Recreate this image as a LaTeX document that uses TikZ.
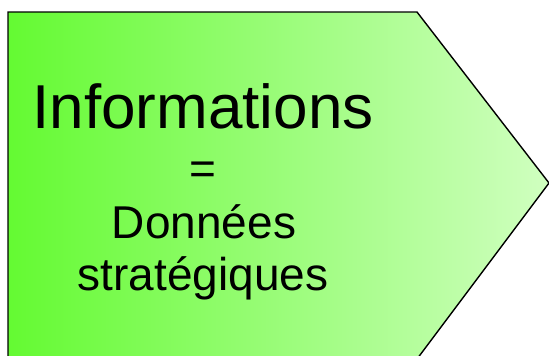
\documentclass[tikz,border=0pt]{standalone}
\usepackage{fontspec}
\setmainfont{Liberation Sans}
\definecolor{leftgreen}{RGB}{100,250,50}
\definecolor{rightgreen}{RGB}{208,255,192}
\begin{document}
\begin{tikzpicture}[x=1pt,y=-1pt,
    arrowbox/.style={draw=black,line width=1.4pt,left color=leftgreen,right color=rightgreen},
    bigtext/.style={font=\fontsize{62}{70}\selectfont,anchor=base,inner sep=0pt},
    midtext/.style={font=\fontsize{46}{52}\selectfont,anchor=base,inner sep=0pt}]
      \useasboundingbox (0,0) rectangle (549,356);
      \clip (0,0) rectangle (549,356);
      \draw[arrowbox] (8,12) -- (417,12) -- (549,183) -- (417,359) -- (8,359) -- cycle;
      \node[bigtext] (info) at (203,128) {Informations};
      \node[midtext] (eq) at (203,184) {=};
      \node[midtext] (donnees) at (204,238) {Données};
      \node[midtext] (strat) at (203,290) {stratégiques};
    \end{tikzpicture}
\end{document}
